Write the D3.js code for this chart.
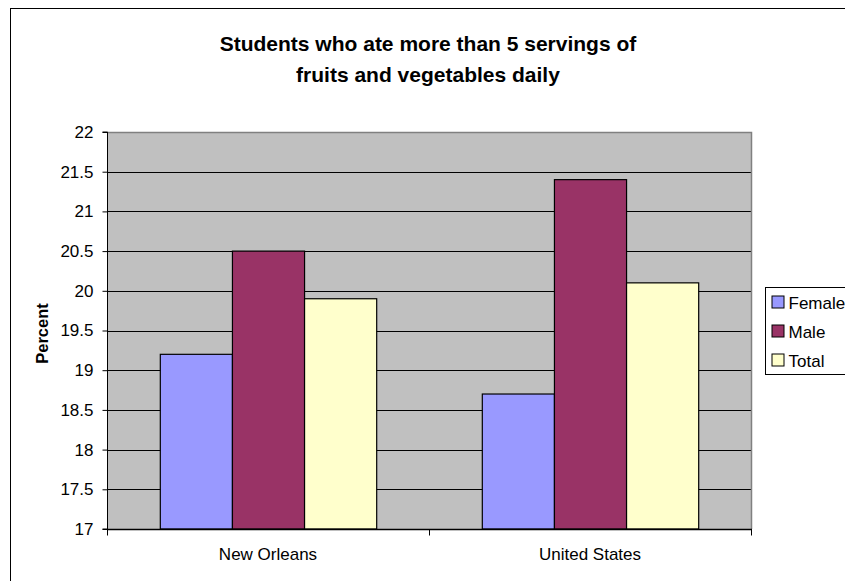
<!DOCTYPE html>
<html>
<head>
<meta charset="utf-8">
<script src="https://cdn.jsdelivr.net/npm/d3@7"></script>
<style>
  body { margin: 0; background: #fff; }
  text { font-family: Arial, "Liberation Sans", sans-serif; }
</style>
</head>
<body>
<svg id="chart" width="845" height="581"></svg>
<script>
const categories = ["New Orleans", "United States"];
const seriesNames = ["Female", "Male", "Total"];
const female = [19.2, 18.7];
const male = [20.5, 21.4];
const total = [19.9, 20.1];
const yTicks = [17, 17.5, 18, 18.5, 19, 19.5, 20, 20.5, 21, 21.5, 22];

const colors = { Female: "#9999ff", Male: "#993366", Total: "#ffffcc" };
const seriesValues = { Female: female, Male: male, Total: total };

const svg = d3.select("#chart");
const plot = { left: 107, top: 132, right: 751, bottom: 529 };

// outer chart border
svg.append("rect")
  .attr("x", 10.5).attr("y", 8.5)
  .attr("width", 845).attr("height", 600)
  .attr("fill", "none").attr("stroke", "#000");

// title
const title = svg.append("text")
  .attr("text-anchor", "middle")
  .attr("font-size", 21).attr("font-weight", "bold");
title.append("tspan").attr("x", 428).attr("y", 51).text("Students who ate more than 5 servings of");
title.append("tspan").attr("x", 428).attr("y", 82).text("fruits and vegetables daily");

const x0 = d3.scaleBand().domain(categories).range([plot.left, plot.right]);
const gap = x0.bandwidth() * 0.164;
const x1 = d3.scaleBand().domain(seriesNames).range([gap, x0.bandwidth() - gap]);
const y = d3.scaleLinear().domain([17, 22]).range([plot.bottom, plot.top]);

// plot background
svg.append("rect")
  .attr("x", plot.left).attr("y", plot.top)
  .attr("width", plot.right - plot.left).attr("height", plot.bottom - plot.top)
  .attr("fill", "#c0c0c0");

// gridlines
svg.append("g")
  .selectAll("line")
  .data(yTicks.filter(t => t > 17 && t < 22))
  .join("line")
  .attr("x1", plot.left).attr("x2", plot.right)
  .attr("y1", d => Math.round(y(d)) + 0.5).attr("y2", d => Math.round(y(d)) + 0.5)
  .attr("stroke", "#000");

// plot border top/right
svg.append("path")
  .attr("d", `M${plot.left},${plot.top + 0.5}H${plot.right + 0.5}V${plot.bottom}`)
  .attr("fill", "none").attr("stroke", "#808080").attr("stroke-width", 1.5);

// bars
const rows = categories.map((c, i) => seriesNames.map(s => ({ cat: c, series: s, value: seriesValues[s][i] })));
svg.append("g")
  .selectAll("g")
  .data(rows)
  .join("g")
  .attr("transform", d => `translate(${x0(d[0].cat)},0)`)
  .selectAll("rect")
  .data(d => d)
  .join("rect")
  .attr("x", d => x1(d.series) + 0.5)
  .attr("y", d => y(d.value))
  .attr("width", x1.bandwidth())
  .attr("height", d => plot.bottom - y(d.value))
  .attr("fill", d => colors[d.series])
  .attr("stroke", "#000").attr("stroke-width", 1.2);

// y axis
const yAxis = d3.axisLeft(y).tickValues(yTicks).tickSize(5).tickPadding(9).tickFormat(d3.format("~g"));
const yg = svg.append("g")
  .attr("transform", `translate(${plot.left + 0.5},0)`)
  .call(yAxis);
yg.select(".domain").attr("stroke", "#000").attr("d", `M-5,${plot.top}H0V${plot.bottom}H-5`);
yg.selectAll(".tick line").attr("stroke", "#000");
yg.selectAll("text").attr("font-size", 17).attr("fill", "#000")
  .attr("font-family", "Arial, 'Liberation Sans', sans-serif");

// x axis
const xg = svg.append("g")
  .attr("transform", `translate(0,${plot.bottom + 0.5})`);
xg.append("line")
  .attr("x1", plot.left).attr("x2", plot.right + 1)
  .attr("stroke", "#000").attr("stroke-width", 1.5);
xg.selectAll(".xtick")
  .data([plot.left, plot.left + x0.step(), plot.right])
  .join("line")
  .attr("x1", d => Math.round(d) + 0.5).attr("x2", d => Math.round(d) + 0.5)
  .attr("y1", 0).attr("y2", 6)
  .attr("stroke", "#000");
xg.selectAll(".xlabel")
  .data(categories)
  .join("text")
  .attr("x", d => x0(d) + x0.bandwidth() / 2)
  .attr("y", 30)
  .attr("text-anchor", "middle")
  .attr("font-size", 17)
  .text(d => d);

// y title
svg.append("text")
  .attr("transform", `translate(48,${(plot.top + plot.bottom) / 2 + 3}) rotate(-90)`)
  .attr("text-anchor", "middle")
  .attr("font-size", 16.5).attr("font-weight", "bold")
  .text("Percent");

// legend
const legend = svg.append("g").attr("transform", "translate(765.5,287.5)");
legend.append("rect")
  .attr("width", 100).attr("height", 87)
  .attr("fill", "#fff").attr("stroke", "#000");
const li = legend.selectAll("g")
  .data(seriesNames)
  .join("g")
  .attr("transform", (d, i) => `translate(0,${15 + i * 29})`);
li.append("rect")
  .attr("x", 6.5).attr("y", -6.5)
  .attr("width", 12).attr("height", 12)
  .attr("fill", d => colors[d]).attr("stroke", "#000");
li.append("text")
  .attr("x", 23).attr("y", 6)
  .attr("font-size", 17)
  .text(d => d);
</script>
</body>
</html>
